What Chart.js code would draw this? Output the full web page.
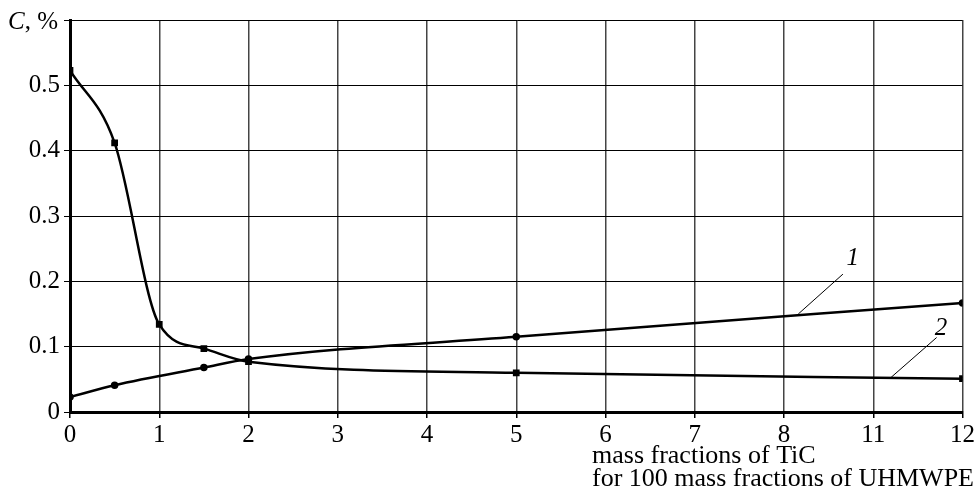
<!DOCTYPE html>
<html>
<head>
<meta charset="utf-8">
<script src="https://cdn.jsdelivr.net/npm/chart.js@4.4.1/dist/chart.umd.min.js"></script>
<style>
  body { margin: 0; background: #fff; }
</style>
</head>
<body>
<canvas id="chart" width="977" height="496"></canvas>
<script>
// x axis ticks are evenly spaced, but the step 8 -> 11 takes one slot
const xTickLabels = [0, 1, 2, 3, 4, 5, 6, 7, 8, 11, 12];

// curve 1
const tic1 = [0, 0.5, 1.5, 2, 5, 12];
const conc1 = [0.023, 0.041, 0.068, 0.081, 0.115, 0.167];

// curve 2
const tic2 = [0, 0.5, 1, 1.5, 2, 5, 12];
const conc2 = [0.523, 0.412, 0.134, 0.097, 0.077, 0.060, 0.051];

const yLabel = ['C', ', %'];
const xTitle = ['mass fractions of TiC', 'for 100 mass fractions of UHMWPE'];

const serif = "'Liberation Serif', 'Times New Roman', serif";

// real TiC value -> slot on the x axis
function toAxis(v) {
  for (let i = 0; i < xTickLabels.length - 1; i++) {
    const a = xTickLabels[i], b = xTickLabels[i + 1];
    if (v <= b) return i + (v - a) / (b - a);
  }
  return xTickLabels.length - 1;
}

function points(xs, ys) {
  return xs.map((x, i) => ({ x: toAxis(x), y: ys[i] }));
}

// curve numbers with their leader lines (axis units)
const callouts = [
  { text: '1', x: 8.77, y: 0.235, from: [8.66, 0.211], to: [8.16, 0.150] },
  { text: '2', x: 9.76, y: 0.128, from: [9.71, 0.114], to: [9.20, 0.053] },
];

const extras = {
  id: 'extras',
  afterDraw(chart) {
    const ctx = chart.ctx;
    const xs = chart.scales.x, ys = chart.scales.y;
    const area = chart.chartArea;
    ctx.save();
    ctx.fillStyle = '#000';
    ctx.strokeStyle = '#000';

    // C, % at the top of the y axis
    ctx.textBaseline = 'middle';
    ctx.font = '25px ' + serif;
    const restW = ctx.measureText(yLabel[1]).width;
    ctx.textAlign = 'right';
    const yTop = ys.getPixelForValue(0.6) + 2;
    ctx.fillText(yLabel[1], area.left - 12, yTop);
    ctx.font = 'italic 25px ' + serif;
    ctx.fillText(yLabel[0], area.left - 12 - restW, yTop);

    // x title, two lines left aligned, ending at the right edge
    ctx.font = '26px ' + serif;
    ctx.textAlign = 'left';
    ctx.textBaseline = 'alphabetic';
    const w = ctx.measureText(xTitle[1]).width;
    const left = chart.width - 3 - w;
    ctx.fillText(xTitle[0], left, area.bottom + 51);
    ctx.fillText(xTitle[1], left, area.bottom + 74);

    // callouts
    ctx.lineWidth = 1;
    ctx.font = 'italic 25px ' + serif;
    ctx.textAlign = 'center';
    ctx.textBaseline = 'middle';
    callouts.forEach(c => {
      ctx.beginPath();
      ctx.moveTo(xs.getPixelForValue(c.from[0]), ys.getPixelForValue(c.from[1]));
      ctx.lineTo(xs.getPixelForValue(c.to[0]), ys.getPixelForValue(c.to[1]));
      ctx.stroke();
      ctx.fillText(c.text, xs.getPixelForValue(c.x), ys.getPixelForValue(c.y));
    });
    ctx.restore();
  }
};

new Chart(document.getElementById('chart'), {
  type: 'scatter',
  data: {
    datasets: [
      {
        label: '1',
        data: points(tic1, conc1),
        showLine: true,
        borderColor: '#000',
        backgroundColor: '#000',
        borderWidth: 2.5,
        cubicInterpolationMode: 'monotone',
        pointStyle: 'circle',
        pointRadius: 2.5,
      },
      {
        label: '2',
        data: points(tic2, conc2),
        showLine: true,
        borderColor: '#000',
        backgroundColor: '#000',
        borderWidth: 2.5,
        cubicInterpolationMode: 'monotone',
        pointStyle: 'rect',
        pointRadius: 3,
      },
    ],
  },
  options: {
    responsive: false,
    animation: false,
    layout: { padding: { top: 20, right: 14, left: 0, bottom: 0 } },
    plugins: {
      legend: { display: false },
      tooltip: { enabled: false },
    },
    scales: {
      x: {
        type: 'linear',
        min: 0,
        max: xTickLabels.length - 1,
        ticks: {
          stepSize: 1,
          autoSkip: false,
          maxRotation: 0,
          padding: 2,
          color: '#000',
          font: { family: serif, size: 25 },
          callback: v => xTickLabels[v],
        },
        grid: { color: '#444', lineWidth: 1.5, tickLength: 6, tickColor: '#000' },
        border: { color: '#000', width: 3 },
        afterFit: s => { s.height = 84; },
      },
      y: {
        min: 0,
        max: 0.6,
        ticks: {
          stepSize: 0.1,
          padding: 4,
          color: '#000',
          font: { family: serif, size: 25 },
          callback: v => (v > 0.55 ? '' : String(Math.round(v * 10) / 10)),
        },
        grid: { color: '#000', lineWidth: 1, tickLength: 6, tickColor: '#000' },
        border: { color: '#000', width: 3 },
        afterFit: s => { s.width = 70; },
      },
    },
  },
  plugins: [extras],
});
</script>
</body>
</html>
